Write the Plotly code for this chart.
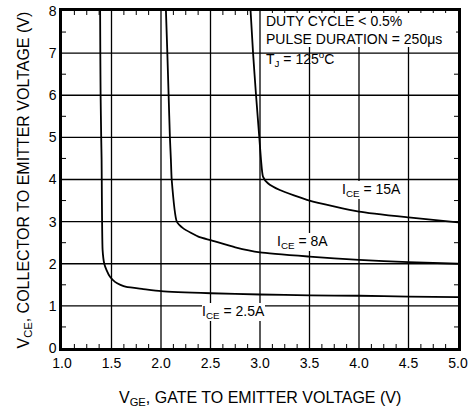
import plotly.graph_objects as go

# I_CE = 2.5 A
vge_25 = [1.385, 1.387, 1.39, 1.396, 1.40, 1.41, 1.427, 1.45, 1.485, 1.535, 1.59, 1.65, 1.82, 2.0, 2.5, 3.0, 3.5, 4.0, 4.5, 5.0]
vce_25 = [8.0, 7.0, 6.0, 5.0, 4.47, 2.33, 2.0, 1.85, 1.69, 1.57, 1.50, 1.45, 1.40, 1.35, 1.30, 1.27, 1.25, 1.24, 1.22, 1.21]

# I_CE = 8 A
vge_8 = [2.05, 2.064, 2.077, 2.09, 2.10, 2.108, 2.16, 2.225, 2.39, 2.5, 2.75, 3.0, 3.5, 4.0, 4.5, 5.0]
vce_8 = [8.0, 7.0, 6.0, 5.0, 4.47, 4.0, 3.0, 2.84, 2.63, 2.56, 2.39, 2.27, 2.17, 2.09, 2.04, 2.0]

# I_CE = 15 A
vge_15 = [2.905, 2.93, 2.96, 2.993, 3.01, 3.03, 3.08, 3.2, 3.5, 4.0, 4.5, 5.0]
vce_15 = [8.0, 7.0, 6.0, 5.0, 4.47, 4.07, 3.91, 3.75, 3.50, 3.24, 3.10, 2.98]

x_ticks = [1.0, 1.5, 2.0, 2.5, 3.0, 3.5, 4.0, 4.5, 5.0]
x_tick_labels = ["1.0", "1.5", "2.0", "2.5", "3.0", "3.5", "4.0", "4.5", "5.0"]
y_ticks = [0, 1, 2, 3, 4, 5, 6, 7, 8]

x_title = "V<sub>GE</sub>, GATE TO EMITTER VOLTAGE (V)"
y_title = "V<sub>CE</sub>, COLLECTOR TO EMITTER VOLTAGE (V)"

FONT = "Liberation Sans, Arial, sans-serif"

fig = go.Figure()
for xs, ys in [(vge_25, vce_25), (vge_8, vce_8), (vge_15, vce_15)]:
    fig.add_trace(go.Scatter(x=xs, y=ys, mode="lines",
                             line=dict(color="black", width=1.8, shape="spline", smoothing=0.5),
                             showlegend=False, hoverinfo="skip"))

fig.update_layout(
    xaxis=dict(range=[1, 5], tickmode="array", tickvals=x_ticks, ticktext=x_tick_labels,
               showline=True, linecolor="black", linewidth=2.5, mirror=True, automargin=False,
               showgrid=False, zeroline=False, ticks="",
               tickfont=dict(family=FONT, size=14, color="black")),
    yaxis=dict(range=[0, 8], tickmode="array", tickvals=y_ticks,
               showline=True, linecolor="black", linewidth=2.5, mirror=True, automargin=False,
               showgrid=False, zeroline=False, ticks="",
               tickfont=dict(family=FONT, size=14, color="black")),
)

# grid lines at the major tick positions
grid_line = dict(color="black", width=1.3)
for xv in x_ticks[1:-1]:
    fig.add_shape(type="line", xref="x", yref="y", x0=xv, x1=xv, y0=y_ticks[0], y1=y_ticks[-1],
                  line=grid_line, layer="below")
for yv in y_ticks[1:-1]:
    fig.add_shape(type="line", xref="x", yref="y", x0=x_ticks[0], x1=x_ticks[-1], y0=yv, y1=yv,
                  line=grid_line, layer="below")

# inward minor ticks between major ticks, on all four sides
tick_line = dict(color="black", width=1)
x_half = [(a + b) / 2 for a, b in zip(x_ticks[:-1], x_ticks[1:])]
x_minor = [(a + b) / 2 for a, b in zip(x_ticks[:-1], x_half)] + x_half + \
          [(a + b) / 2 for a, b in zip(x_half, x_ticks[1:])]
for xm in x_minor:
    if xm in x_ticks:
        continue
    fig.add_shape(type="line", xref="x", yref="y", x0=xm, x1=xm, ysizemode="pixel",
                  yanchor=y_ticks[0], y0=0, y1=4, line=tick_line)
    fig.add_shape(type="line", xref="x", yref="y", x0=xm, x1=xm, ysizemode="pixel",
                  yanchor=y_ticks[-1], y0=0, y1=-4, line=tick_line)
y_minor = [(a + b) / 2 for a, b in zip(y_ticks[:-1], y_ticks[1:])]
for ym in y_minor:
    fig.add_shape(type="line", xref="x", yref="y", y0=ym, y1=ym, xsizemode="pixel",
                  xanchor=x_ticks[0], x0=0, x1=4, line=tick_line)
    fig.add_shape(type="line", xref="x", yref="y", y0=ym, y1=ym, xsizemode="pixel",
                  xanchor=x_ticks[-1], x0=0, x1=-4, line=tick_line)

title_font = dict(family=FONT, size=16, color="black")
fig.add_annotation(x=0.5, y=0, xref="paper", yref="paper", xanchor="center", yanchor="middle",
                   yshift=-50, text=x_title, showarrow=False, font=title_font)
fig.add_annotation(x=0, y=0.5, xref="paper", yref="paper", xanchor="center", yanchor="middle",
                   xshift=-38, yshift=-1, textangle=-90, text=y_title, showarrow=False, font=title_font)

ann_font = dict(family=FONT, size=14, color="black")
fig.add_annotation(x=3.06, y=7.55, xref="x", yref="y", xanchor="left", yanchor="middle",
                   text="DUTY CYCLE &lt; 0.5%<br>PULSE DURATION = 250\u03bcs", showarrow=False,
                   font=ann_font, align="left", bgcolor="white", borderpad=0, borderwidth=0, width=190)
fig.add_annotation(x=3.04, y=6.86, xref="x", yref="y", xanchor="left", yanchor="middle",
                   text="T<sub>J</sub> = 125<sup>o</sup>C", showarrow=False, font=ann_font)

for xa, ya, t in [(3.83, 3.75, "I<sub>CE</sub> = 15A"), (3.17, 2.52, "I<sub>CE</sub> = 8A"),
                  (2.41, 0.86, "I<sub>CE</sub> = 2.5A")]:
    fig.add_annotation(x=xa, y=ya, xref="x", yref="y", xanchor="left", yanchor="middle",
                       text=t, showarrow=False, font=ann_font, bgcolor="white", borderpad=0, borderwidth=0)

fig.update_layout(width=474, height=411, margin=dict(l=62, r=16, t=11, b=63),
                  paper_bgcolor="white", plot_bgcolor="white")

fig.write_html("out.html", config={"displayModeBar": False},
               post_script="document.body.style.margin='0';")
